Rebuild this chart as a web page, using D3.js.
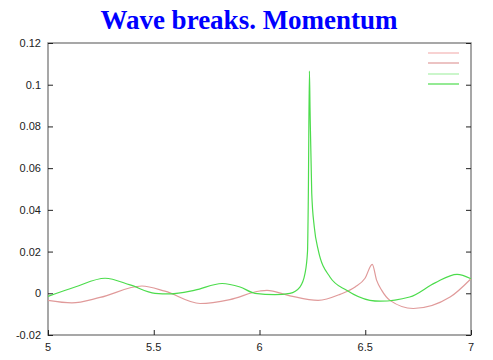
<!DOCTYPE html>
<html><head><meta charset="utf-8">
<script src="https://cdn.jsdelivr.net/npm/d3@7"></script>
<style>body{margin:0;background:#fff}svg{display:block}</style>
</head><body>
<svg id="c" width="493" height="360"></svg>
<script>
const title = "Wave breaks. Momentum";
const xTicks = [5, 5.5, 6, 6.5, 7];
const xTickLabels = ["5", "5.5", "6", "6.5", "7"];
const yTicks = [-0.02, 0, 0.02, 0.04, 0.06, 0.08, 0.1, 0.12];
const yTickLabels = ["-0.02", "0", "0.02", "0.04", "0.06", "0.08", "0.1", "0.12"];
const legendColors = ["#f4b4b4", "#e09a9a", "#a8f0a8", "#4cdc4c"];

const pinkX = [5.0, 5.113, 5.246, 5.444, 5.553, 5.719, 5.86, 6.002, 6.035, 6.144, 6.277, 6.381, 6.452, 6.499, 6.533, 6.554, 6.578, 6.617, 6.727, 6.901, 7.0];
const pinkY = [-0.0034, -0.0046, -0.002, 0.0035, 0.001, -0.0049, -0.003, 0.0011, 0.0014, -0.0012, -0.0034, -0.0005, 0.003, 0.0072, 0.0139, 0.0062, 0.0014, -0.0034, -0.0073, -0.0018, 0.007];

const greenX = [5.0, 5.128, 5.27, 5.388, 5.506, 5.577, 5.695, 5.823, 5.908, 5.979, 6.073, 6.144, 6.191, 6.215, 6.227, 6.231, 6.236, 6.239, 6.247, 6.259, 6.278, 6.333, 6.412, 6.522, 6.57, 6.71, 6.83, 6.934, 7.0];
const greenY = [-0.0015, 0.003, 0.0072, 0.004, 0.0, -0.0003, 0.0015, 0.0047, 0.003, 0.0, -0.0006, 0.0, 0.003, 0.0094, 0.02, 0.048, 0.1065, 0.088, 0.048, 0.0318, 0.0206, 0.0078, 0.0014, -0.0034, -0.0038, -0.0018, 0.005, 0.0091, 0.007];

const svg = d3.select("#c");
const L = 48, R = 471, T = 43, B = 335;
const x = d3.scaleLinear().domain([5, 7]).range([L, R]);
const y = d3.scaleLinear().domain([-0.02, 0.12]).range([B, T]);

svg.append("text").attr("x", 249).attr("y", 29).attr("text-anchor", "middle")
  .attr("font-family", "Liberation Serif, serif").attr("font-weight", "bold")
  .attr("font-size", 27).attr("fill", "#0000ff").text(title);

// frame
svg.append("rect").attr("x", L).attr("y", T).attr("width", R - L).attr("height", B - T)
  .attr("fill", "none").attr("stroke", "#8a8a8a").attr("stroke-width", 1.5);

const fmtX = d => xTickLabels[xTicks.indexOf(d)];
const fmtY = d => yTickLabels[yTicks.indexOf(d)];

const gx = svg.append("g").attr("transform", `translate(0,${B})`)
  .call(d3.axisTop(x).tickValues(xTicks).tickFormat("").tickSizeOuter(0).tickSize(5));
gx.select(".domain").remove();
gx.selectAll("line").attr("stroke", "#222");
xTicks.forEach(t => {
  svg.append("text").attr("x", x(t)).attr("y", 351).attr("text-anchor", "middle")
    .attr("font-family", "Liberation Sans, Arial, sans-serif").attr("font-size", 11)
    .attr("fill", "#222").text(fmtX(t));
});

const gy = svg.append("g").attr("transform", `translate(${L},0)`)
  .call(d3.axisRight(y).tickValues(yTicks).tickFormat("").tickSizeOuter(0).tickSize(5));
gy.select(".domain").remove();
gy.selectAll("line").attr("stroke", "#222");
const gy2 = svg.append("g").attr("transform", `translate(${R},0)`)
  .call(d3.axisLeft(y).tickValues(yTicks).tickFormat("").tickSizeOuter(0).tickSize(5));
gy2.select(".domain").remove();
gy2.selectAll("line").attr("stroke", "#222");
yTicks.forEach(t => {
  svg.append("text").attr("x", 41).attr("y", y(t) + 4).attr("text-anchor", "end")
    .attr("font-family", "Liberation Sans, Arial, sans-serif").attr("font-size", 11)
    .attr("fill", "#222").text(fmtY(t));
});

const line = d3.line().x(d => x(d[0])).y(d => y(d[1])).curve(d3.curveMonotoneX);
const pink = pinkX.map((v, i) => [v, pinkY[i]]);
const green = greenX.map((v, i) => [v, greenY[i]]);
svg.append("path").attr("d", line(pink)).attr("fill", "none").attr("stroke", legendColors[1]).attr("stroke-width", 1.2);
svg.append("path").attr("d", line(green)).attr("fill", "none").attr("stroke", legendColors[3]).attr("stroke-width", 1.2);

// legend
const legY = [53, 63, 74, 84];
legendColors.forEach((c, i) => {
  svg.append("line").attr("x1", 428).attr("x2", 459).attr("y1", legY[i]).attr("y2", legY[i])
    .attr("stroke", c).attr("stroke-width", 1.2);
});
</script>
</body></html>
